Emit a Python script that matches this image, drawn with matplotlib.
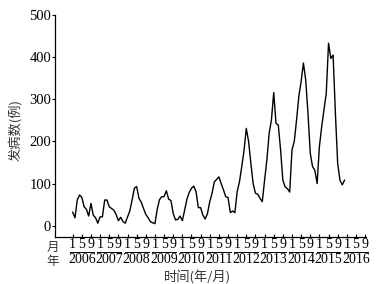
import matplotlib
matplotlib.use("Agg")
import matplotlib.pyplot as plt
import matplotlib.transforms as mtransforms
import numpy as np

years = [2006, 2007, 2008, 2009, 2010, 2011, 2012, 2013, 2014, 2015, 2016]
tick_months = ["1", "5", "9"]

cases_2006 = [32, 19, 61, 73, 67, 45, 39, 23, 53, 25, 19, 6]
cases_2007 = [21, 21, 61, 61, 45, 41, 37, 27, 12, 20, 10, 6]
cases_2008 = [21, 35, 61, 89, 93, 65, 56, 41, 27, 19, 10, 7]
cases_2009 = [5, 39, 62, 69, 69, 83, 63, 60, 29, 14, 15, 23]
cases_2010 = [12, 37, 63, 79, 89, 94, 81, 43, 43, 25, 16, 29]
cases_2011 = [57, 77, 104, 110, 116, 100, 85, 69, 67, 31, 35, 31]
cases_2012 = [81, 104, 140, 178, 231, 200, 148, 100, 77, 75, 65, 57]
cases_2013 = [108, 156, 219, 251, 316, 243, 239, 180, 108, 92, 88, 80]
cases_2014 = [180, 200, 251, 307, 342, 386, 346, 267, 172, 140, 132, 100]
cases_2015 = [188, 235, 275, 314, 433, 397, 405, 267, 148, 108, 97, 108]

cases = (cases_2006 + cases_2007 + cases_2008 + cases_2009 + cases_2010 +
         cases_2011 + cases_2012 + cases_2013 + cases_2014 + cases_2015)
month_index = np.arange(len(cases))

W, H = 376, 284
fig = plt.figure(figsize=(W / 100, H / 100), dpi=100)
ax = fig.add_axes([55 / W, 1 - 236.7 / H, (366 - 55) / W, (236.7 - 15) / H])

ax.plot(month_index, cases, color="black", lw=1.0)

ax.set_xlim(-7.75, 128.4)
ax.set_ylim(-26, 500)

serif = "Liberation Serif"
cjk = "Noto Sans CJK SC"

ax.set_yticks([0, 100, 200, 300, 400, 500])
ax.set_yticklabels(["0", "100", "200", "300", "400", "500"], fontfamily=serif, fontsize=10.5)
ax.tick_params(axis="y", direction="out", length=2.2, width=0.8, pad=0.5)

xt = np.arange(0, 12 * len(years) - 3, 4)
ax.set_xticks(xt)
ax.set_xticklabels([tick_months[i % 3] for i in range(len(xt))], fontfamily=serif, fontsize=10)
ax.tick_params(axis="x", direction="in", length=2.5, width=0.8, pad=1.2)

for s in ["top", "right"]:
    ax.spines[s].set_visible(False)
for s in ["left", "bottom"]:
    ax.spines[s].set_linewidth(0.9)

trans = mtransforms.blended_transform_factory(ax.transData, ax.transAxes)
for i, yr in enumerate(years):
    x0 = i * 12
    ax.plot([x0 - 1.2, x0 + 9.2], [-0.069, -0.069], transform=trans,
            color="black", lw=0.7, clip_on=False)
    ax.text(x0 + 4, -0.104, str(yr), transform=trans, ha="center", va="center",
            fontfamily=serif, fontsize=10)

fig.text(52.5 / W, 1 - 247.5 / H, "月", ha="center", va="center",
         fontfamily=cjk, fontsize=9, color="#333333")
fig.text(52.5 / W, 1 - 261 / H, "年", ha="center", va="center",
         fontfamily=cjk, fontsize=9, color="#333333")
fig.text(198 / W, 1 - 277 / H, "时间(年/月)", ha="center", va="center",
         fontfamily=cjk, fontsize=9.5, color="#333333")
fig.text(15 / W, 1 - 130 / H, "发病数(例)", ha="center", va="center", rotation=90,
         fontfamily=cjk, fontsize=9.5, color="#333333")

fig.savefig("out.png", dpi=100)
